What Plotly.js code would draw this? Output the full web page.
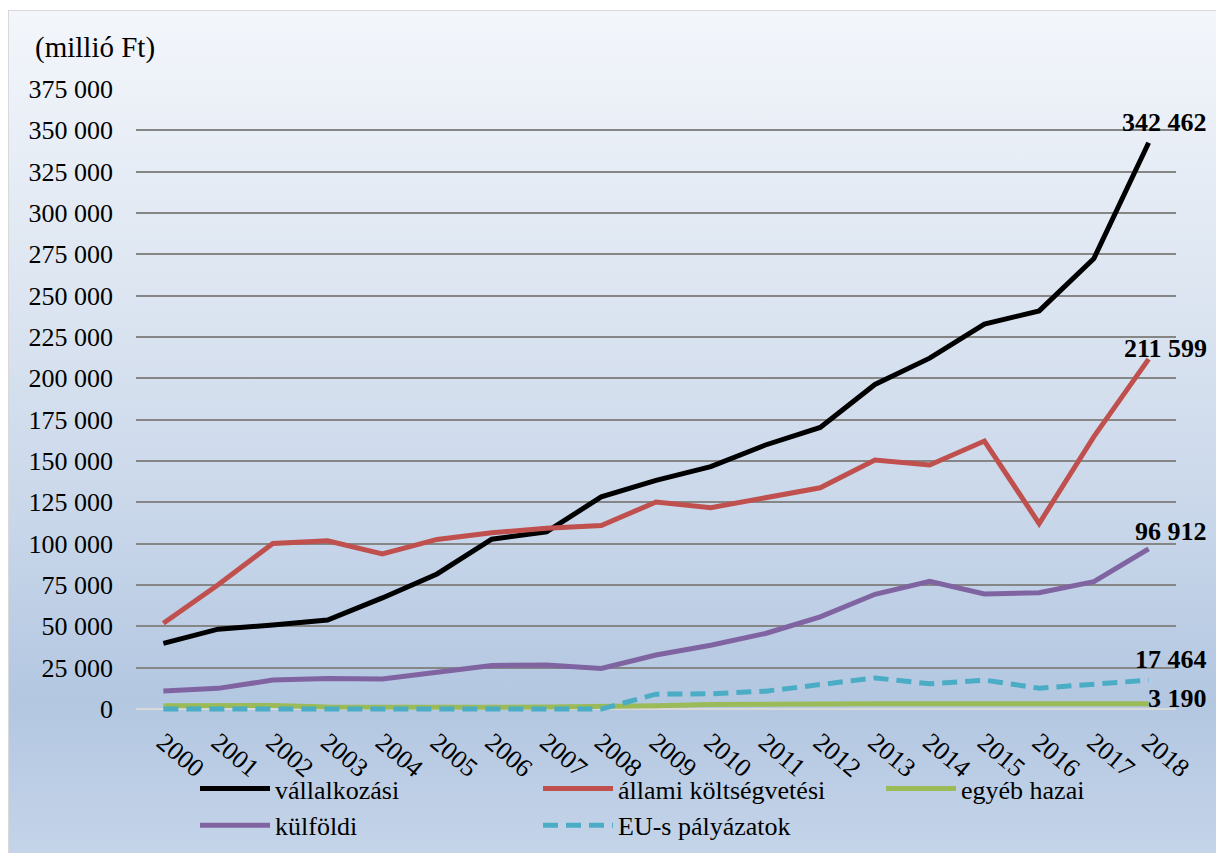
<!DOCTYPE html>
<html><head><meta charset="utf-8">
<script src="https://cdn.plot.ly/plotly-3.0.1.min.js"></script>
<style>
html,body{margin:0;padding:0;width:1216px;height:853px;overflow:hidden;background:#fff;}
#bg{position:absolute;left:8px;top:10px;width:1208px;height:843px;box-sizing:border-box;border:1px solid #d9d9d9;border-right:none;border-bottom:none;
background:linear-gradient(to bottom,#f3f6fb 0%,#dfe7f2 30%,#c9d7ea 60%,#b3c7e1 82%,#c4d4e9 100%);}
#chart{position:absolute;left:0;top:0;width:1216px;height:853px;}
</style></head><body><div id="bg"></div><div id="chart"></div>
<script>
const years = ['2000','2001','2002','2003','2004','2005','2006','2007','2008','2009','2010','2011','2012','2013','2014','2015','2016','2017','2018'];
const vallalkozasi = [39700,48300,50800,53800,67200,81700,102700,107200,128300,138300,146600,159700,170300,196300,212200,232800,240800,272500,342462];
const allami = [51900,75200,100100,101800,93800,102600,106600,109300,111000,125200,121800,128100,133800,150600,147600,162100,112200,164800,211599];
const egyeb = [2000,2300,2200,1200,1000,900,1100,1200,1300,2000,2800,3200,3100,3200,3100,3300,3200,2900,3190];
const kulfoldi = [10900,12500,17500,18500,18200,22000,26300,26700,24500,32700,38600,45700,55800,69400,77300,69600,70300,77000,96912];
const eu = [0,0,0,0,0,0,0,0,0,9000,9200,10800,15000,18800,15300,17500,12600,15400,17464];
const seriesNames = ['vállalkozási','állami költségvetési','egyéb hazai','külföldi','EU-s pályázatok'];
const yTitle = '(millió Ft)';

const seriesData = [vallalkozasi, allami, egyeb, kulfoldi, eu];
const colors = ['#000000','#c0504d','#9bbb59','#8064a2','#4bacc6'];
const dashes = ['solid','solid','solid','solid','15px,8px'];
const labelYShift = [20, 11, 5, 17, 21];

const serif = 'Liberation Serif, Times New Roman, serif';
const fmt = n => n.toString().replace(/\B(?=(\d{3})+(?!\d))/g, ' ');

const traces = seriesData.map((d,i) => ({
  type:'scatter', mode:'lines', x: years, y: d, name: seriesNames[i],
  line:{color: colors[i], width:5, dash: dashes[i]},
  hoverinfo:'skip'
}));

const lastIdx = years.length - 1;
const annotations = seriesData.map((d,i) => ({
  x: lastIdx, y: d[lastIdx], xref:'x', yref:'y',
  text: '<b>' + fmt(d[lastIdx]) + '</b>', showarrow:false, xanchor:'right', yanchor:'middle',
  xshift: 60, yshift: labelYShift[i],
  font:{family: serif, size:26, color:'#000'}
}));
annotations.push({
  x:(33-136)/1040, y:(714-47)/625, xref:'paper', yref:'paper', xanchor:'left', yanchor:'middle',
  text: yTitle, showarrow:false, font:{family: serif, size:29, color:'#000'}
});

const layout = {
  width:1216, height:853,
  margin:{l:136, r:40, t:89, b:139, autoexpand:false},
  paper_bgcolor:'rgba(0,0,0,0)', plot_bgcolor:'rgba(0,0,0,0)',
  separators: ', ',
  font:{family: serif, color:'#000'},
  xaxis:{type:'category', showgrid:false, zeroline:false, showline:false, ticks:'',
    tickangle:40, tickfont:{family: serif, size:26, color:'#000'}, ticklabelstandoff:7,
    range:[-0.5, 18.5]},
  yaxis:{range:[-3000, 375000], tick0:0, dtick:25000, tickformat:',d',
    showgrid:true, gridcolor:'#868686', gridwidth:2,
    zeroline:true, zerolinecolor:'#d9d9d9', zerolinewidth:2, showline:false, ticks:'',
    tickfont:{family: serif, size:26, color:'#000'}, ticklabelstandoff:22},
  showlegend:true,
  legend:{orientation:'h', x:(195-136)/1040, xanchor:'left', y:(714-765)/625, yanchor:'top',
    entrywidth:258, entrywidthmode:'pixels', itemwidth:70,
    font:{family: serif, size:26, color:'#000'}, bgcolor:'rgba(0,0,0,0)', traceorder:'normal'},
  annotations: annotations
};

Plotly.newPlot('chart', traces, layout, {displayModeBar:false, staticPlot:true}).then(gd => {
  gd.querySelectorAll('.legend .legendlines path').forEach(p => p.setAttribute('d','M5,0h70'));
});
</script>
</body></html>
